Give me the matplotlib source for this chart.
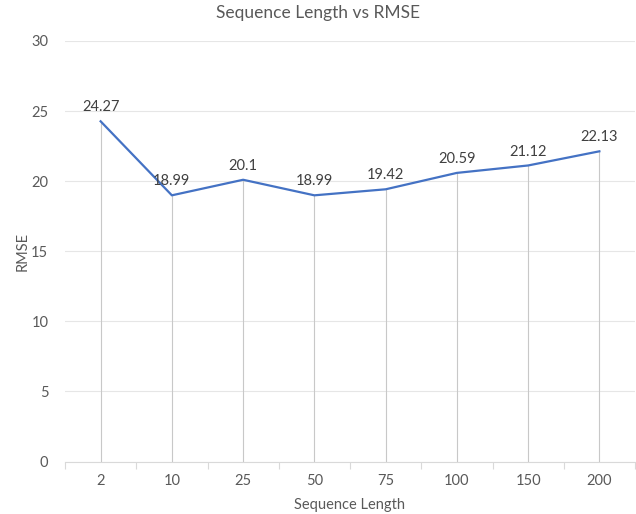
import numpy as np
import matplotlib
matplotlib.use('Agg')
from matplotlib import pyplot as plt

seq_len = ['2', '10', '25', '50', '75', '100', '150', '200']
rmse = [24.27, 18.99, 20.1, 18.99, 19.42, 20.59, 21.12, 22.13]
rmse_labels = ['24.27', '18.99', '20.1', '18.99', '19.42', '20.59', '21.12', '22.13']

txt = '#595959'
grid = '#D9D9D9'
plt.rcParams['font.family'] = ['Lato', 'DejaVu Sans']

fig = plt.figure(figsize=(6.36, 5.14), dpi=100)
ax = fig.add_axes([65/636, 1-461.5/514, 570/636, 420.5/514])

x = np.arange(len(seq_len))
ax.vlines(x, 0, rmse, color='#C8C8C8', lw=0.8, zorder=1)
ax.plot(x, rmse, color='#4472C4', lw=1.6, zorder=3)
for xi, yi, lab in zip(x, rmse, rmse_labels):
    ax.annotate(lab, (xi, yi), xytext=(0, 5), textcoords='offset points',
                ha='center', va='bottom', fontsize=10.5, color='#404040')

ax.set_xlim(-0.5, len(seq_len) - 0.5)
ax.set_ylim(0, 30)
ax.set_yticks(range(0, 31, 5))
ax.set_xticks(x)
ax.set_xticklabels(seq_len)
ax.set_xticks(np.arange(-0.5, len(seq_len), 1), minor=True)
ax.tick_params(axis='x', which='major', length=0, pad=9, labelsize=10.5, labelcolor=txt)
ax.tick_params(axis='x', which='minor', length=5, color=grid, width=0.8)
ax.tick_params(axis='y', length=0, pad=12, labelsize=10.5, labelcolor=txt)
ax.grid(axis='y', color='#E6E6E6', lw=0.8)
ax.set_axisbelow(True)
for s in ['top', 'right', 'left']:
    ax.spines[s].set_visible(False)
ax.spines['bottom'].set_color(grid)
ax.spines['bottom'].set_linewidth(0.8)

ax.set_xlabel('Sequence Length', fontsize=10.5, color=txt, labelpad=7)
ax.set_ylabel('RMSE', fontsize=10.5, color=txt, labelpad=1)
fig.text(0.5, 1-13/514, 'Sequence Length vs RMSE', ha='center', va='center',
         fontsize=12.5, color=txt)

fig.savefig('out.png', dpi=100)
